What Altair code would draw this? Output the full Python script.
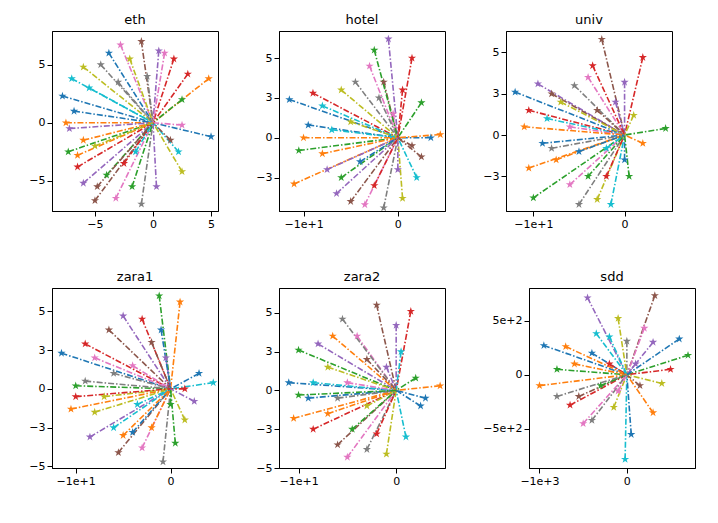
import altair as alt
import pandas as pd

TAB10 = ["#1f77b4", "#ff7f0e", "#2ca02c", "#d62728", "#9467bd",
         "#8c564b", "#e377c2", "#7f7f7f", "#bcbd22", "#17becf"]
STAR = "M0,-1L0.22,-0.31L0.95,-0.31L0.36,0.12L0.59,0.81L0,0.38L-0.59,0.81L-0.36,0.12L-0.95,-0.31L-0.22,-0.31Z"

# trajectory start points (each trajectory ends at the origin)
eth = [(-7.8, 2.3), (-7.5, 0), (-7.3, -2.5), (-6.5, -3.8), (-6, -5.2), (-5, -6.7), (-3.2, -6.5), (-1, -7),
       (2.5, -4.2), (2.2, -2.5), (5, -1.2), (4.8, 3.8), (2.5, 2), (1.8, 5.5), (0.5, 6.2), (-1, 7),
       (-2.8, 6.7), (-4.5, 5), (-6, 4.8), (-7, 3.8), (-6.8, 1), (-6, -1.5), (-4, -4.5), (-2.5, -3.5),
       (0.3, -5.5), (1.5, -1.5), (2.5, -0.2), (-0.5, 4), (-2, 5.5), (-5.5, 3), (-3.8, 6), (-6.5, -2.8),
       (-1.8, -5.5), (3, 4.2), (-7.2, -0.5), (-4.8, -5.5), (1, 6), (-3, 3.5), (-5, -2), (-1.5, -2.5)]
hotel = [(-11.5, 2.4), (-11, -2.9), (-10.5, -0.8), (-9, 2.8), (-7.5, -2), (-5, -4), (-3.5, -4.2), (-1.5, -4.4),
         (0.5, -3.8), (2, -2.5), (3.5, 0), (4.5, 0.2), (2.5, 2.2), (1.5, 5), (-1, 6.2), (-1.5, 3.5),
         (-3, 4.5), (-4.5, 3.5), (-6, 3), (-8, 2), (-9.5, 0.8), (-8, -1), (-6, -2.5), (-2.5, -3),
         (0, -2), (1.5, -0.5), (-0.5, 1.5), (-2, 2.5), (-5, 1), (-7, 0.5), (-4, -1.5), (-10, 0),
         (-2.5, 5.5), (0.5, 3), (-6.5, -3.5), (2.5, -1.2)]
univ = [(-12, 2.6), (-10.5, -2), (-10, -3.8), (-10.5, 1.5), (-9.5, 3.1), (-8, 2.5), (-6, -3), (-5, -4.2),
        (-3, -3.9), (-1.5, -4.2), (0, -1.5), (2, -0.5), (4.5, 0.4), (2, 4.7), (0, 3.2), (-2.5, 5.8),
        (-4, 3.5), (-5.5, 3), (-7, 2), (-8.5, 1), (-9, -0.5), (-7.5, -1.5), (-4, -2.5), (-2, -2.5),
        (-1, 2), (-3, 1.5), (-6, 0.5), (-8, -0.8), (1, 1.2), (-2, -0.8), (-5, -1), (-11, 0.5),
        (0.5, -2.5), (-3.5, 4.2)]
zara1 = [(-11.5, 2.3), (-10.5, -1.3), (-10, 0.2), (-9, 2.9), (-8.5, -3.1), (-5.5, -4.1), (-3, -3.8), (-0.8, -4.7),
         (1.5, -2), (4.5, 0.4), (3, 1), (1, 5.6), (-1.2, 6), (-3, 4.5), (-5, 4.7), (-6.5, 3.8),
         (-8, 2), (-9, 0.5), (-8, -1.5), (-6, -2.5), (-4, -2.8), (-2, -2.5), (0, -1), (1.5, 0),
         (-0.5, 2), (-2, 3), (-4, 1.5), (-6, 1), (-7, -0.5), (-3.5, -1), (-1, 3.8), (-5, -3),
         (0.5, -3.5), (-10, -0.5), (2.5, -0.8)]
zara2 = [(-11, 0.5), (-10.5, -1.8), (-10, 2.6), (-8.5, -2.5), (-8, 3), (-6, -3.5), (-5, -4.3), (-3, -3.8),
         (-1, -4.1), (1, -3), (3, -0.5), (4.5, 0.3), (2, 0.8), (1.5, 5.1), (0, 4.2), (-2, 5.5),
         (-4, 3.5), (-5.5, 4.6), (-7, 1.5), (-8.5, 0.5), (-9, -0.5), (-7, -1.5), (-4.5, -2.5), (-2, -2.8),
         (-1, 1.5), (-3, 2), (-5, 0.5), (-6, -0.5), (-3, -1), (0.5, 2.5), (2.5, -1), (-6.5, 3.5),
         (-10, -0.3)]
sdd = [(-950, 270), (-1000, -100), (-800, 50), (-650, -280), (-450, 710), (-550, -200), (-500, -450), (-400, -420),
       (-150, -300), (-20, -780), (50, -550), (300, -350), (700, 180), (500, 50), (300, 300), (320, 730),
       (200, 430), (0, 310), (-100, 520), (-200, 350), (-400, 200), (-600, 100), (-300, -100), (-200, 100),
       (100, 100), (150, -100), (-100, -150), (-800, -200), (400, -80), (-350, 380), (600, 330), (-700, 260)]

panels = [
    ("eth", eth, (-8.7, 5.6), (-7.6, 7.9), [-5, 0, 5], [-5, 0, 5]),
    ("hotel", hotel, (-12.6, 5.0), (-4.6, 6.7), [-10, 0], [-2.5, 0, 2.5, 5]),
    ("univ", univ, (-13, 5.2), (-4.6, 6.3), [-10, 0], [-2.5, 0, 2.5, 5]),
    ("zara1", zara1, (-12.5, 5), (-5.1, 6.5), [-10, 0], [-5, -2.5, 0, 2.5, 5]),
    ("zara2", zara2, (-12, 5), (-5, 6.6), [-10, 0], [-5, -2.5, 0, 2.5, 5]),
    ("sdd", sdd, (-1120, 780), (-860, 800), [-1000, 0], [-500, 0, 500]),
]


def make_panel(name, pts, xdom, ydom, xt, yt):
    rows = []
    for i, (x, y) in enumerate(pts):
        rows.append({"t": i, "o": 0, "x": x, "y": y, "c": i % 10})
        rows.append({"t": i, "o": 1, "x": 0, "y": 0, "c": i % 10})
    df = pd.DataFrame(rows)
    color = alt.Color("c:N", scale=alt.Scale(domain=list(range(10)), range=TAB10), legend=None)
    base = alt.Chart(df).encode(
        x=alt.X("x:Q", title=None, scale=alt.Scale(domain=list(xdom), nice=False, zero=False),
                axis=alt.Axis(values=xt, format="~g")),
        y=alt.Y("y:Q", title=None, scale=alt.Scale(domain=list(ydom), nice=False, zero=False),
                axis=alt.Axis(values=yt, format="~g")),
        color=color,
    )
    lines = base.mark_line(strokeDash=[6, 2, 1.5, 2], strokeWidth=1.6, clip=True).encode(
        detail="t:N", order="o:Q")
    stars = base.transform_filter("datum.o == 0").mark_point(
        shape=STAR, filled=True, size=75, opacity=1, clip=True)
    return alt.layer(lines, stars).properties(
        title=alt.TitleParams(name, fontSize=13, fontWeight="normal", font="DejaVu Sans"),
        width=166, height=180)


charts = [make_panel(*p) for p in panels]
chart = alt.vconcat(
    alt.hconcat(*charts[:3], spacing=36),
    alt.hconcat(*charts[3:], spacing=36),
    spacing=40,
).configure_axis(
    grid=False, domainColor="black", tickColor="black", labelColor="black",
    labelFont="DejaVu Sans", labelFontSize=11,
).configure_view(stroke="black").properties(padding={"left": 20, "top": 5, "right": 5, "bottom": 5})

chart.save("out.html", embed_options={"renderer": "svg", "actions": False})
